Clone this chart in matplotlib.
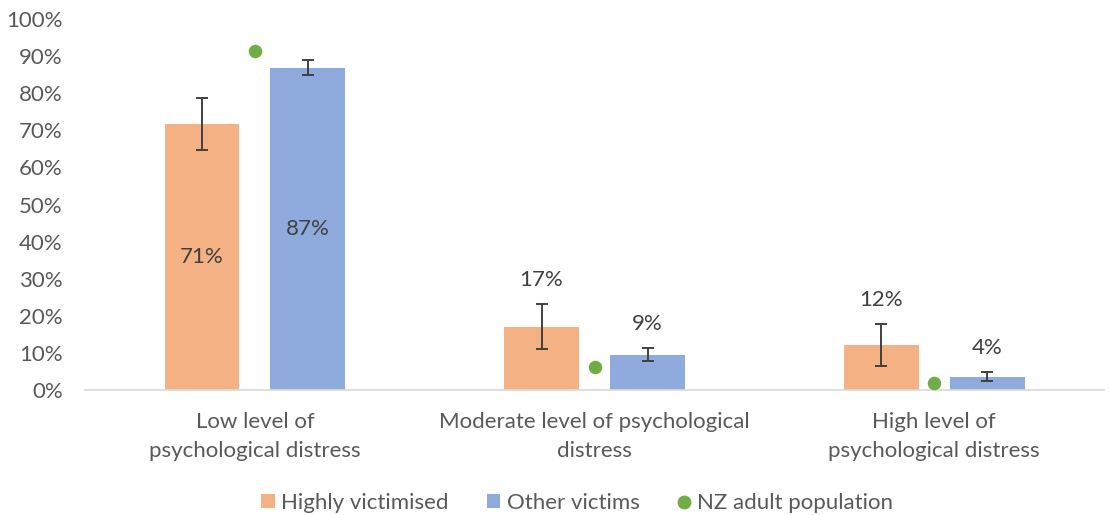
import matplotlib

matplotlib.use("Agg")
import matplotlib.pyplot as plt
from matplotlib.lines import Line2D
from matplotlib.patches import Patch
import numpy as np

CATEGORIES = ["Low level of\npsychological distress",
              "Moderate level of psychological\ndistress",
              "High level of\npsychological distress"]
HIGHLY = [71.8, 17.1, 12.0]
HIGHLY_LO = [64.7, 11.1, 6.4]
HIGHLY_HI = [78.8, 23.1, 17.7]
OTHER = [86.9, 9.5, 3.6]
OTHER_LO = [85.0, 7.8, 2.5]
OTHER_HI = [88.9, 11.3, 4.8]
NZ_POP = [91.3, 6.3, 1.9]
LABELS_HIGHLY = ["71%", "17%", "12%"]
LABELS_OTHER = ["87%", "9%", "4%"]
YTICKS = list(range(0, 101, 10))

ORANGE = "#F4B183"
BLUE = "#8FAADC"
GREEN = "#70AD47"
TEXT = "#595959"
ERR = "#404040"

plt.rcParams["font.family"] = ["Lato", "DejaVu Sans"]

fig = plt.figure(figsize=(11.1, 5.15), dpi=100)
ax = fig.add_axes([0.0766, 0.2427, 0.918, 0.7203])

x = np.arange(len(CATEGORIES))
off, w = 0.156, 0.22
hv = np.array(HIGHLY)
ov = np.array(OTHER)

ax.bar(x - off, hv, width=w, color=ORANGE, zorder=2)
ax.bar(x + off, ov, width=w, color=BLUE, zorder=2)
ax.errorbar(x - off, hv, yerr=[hv - np.array(HIGHLY_LO), np.array(HIGHLY_HI) - hv],
            fmt="none", ecolor=ERR, elinewidth=1.4, capsize=4.5, capthick=1.4, zorder=3)
ax.errorbar(x + off, ov, yerr=[ov - np.array(OTHER_LO), np.array(OTHER_HI) - ov],
            fmt="none", ecolor=ERR, elinewidth=1.4, capsize=4.5, capthick=1.4, zorder=3)
ax.scatter(x, NZ_POP, s=95, color=GREEN, zorder=4, linewidths=0)

fs = 16
# first group labels sit inside the bars, the others above the error bars
for i in range(len(CATEGORIES)):
    if i == 0:
        ax.text(x[i] - off, hv[i] / 2, LABELS_HIGHLY[i], ha="center", va="center",
                fontsize=fs, color="#404040")
        ax.text(x[i] + off, ov[i] / 2, LABELS_OTHER[i], ha="center", va="center",
                fontsize=fs, color="#404040")
    else:
        ax.annotate(LABELS_HIGHLY[i], (x[i] - off, HIGHLY_HI[i]), xytext=(0, 10),
                    textcoords="offset points", ha="center", va="bottom",
                    fontsize=fs, color="#404040")
        ax.annotate(LABELS_OTHER[i], (x[i] + off, OTHER_HI[i]), xytext=(0, 10),
                    textcoords="offset points", ha="center", va="bottom",
                    fontsize=fs, color="#404040")

ax.set_xlim(-0.5, len(CATEGORIES) - 0.5)
ax.set_ylim(0, 100)
ax.set_yticks(YTICKS)
ax.set_yticklabels([f"{t}%" for t in YTICKS])
ax.set_xticks(x)
ax.set_xticklabels(CATEGORIES, linespacing=1.55)
ax.tick_params(axis="both", length=0, labelsize=fs, colors=TEXT)
ax.tick_params(axis="y", pad=16)
ax.tick_params(axis="x", pad=16)
for s in ["top", "right", "left"]:
    ax.spines[s].set_visible(False)
ax.spines["bottom"].set_color("#D9D9D9")
ax.spines["bottom"].set_linewidth(1.2)

handles = [Patch(facecolor=ORANGE, label="Highly victimised"),
           Patch(facecolor=BLUE, label="Other victims"),
           Line2D([], [], marker="o", linestyle="none", markersize=10,
                  markerfacecolor=GREEN, markeredgewidth=0, label="NZ adult population")]
leg = fig.legend(handles=handles, loc="center", bbox_to_anchor=(0.52, 0.023), ncol=3,
                 frameon=False, fontsize=fs, handlelength=0.6, handleheight=0.6,
                 handletextpad=0.3, columnspacing=1.7)
for t in leg.get_texts():
    t.set_color(TEXT)

fig.savefig("out.png", dpi=100)
